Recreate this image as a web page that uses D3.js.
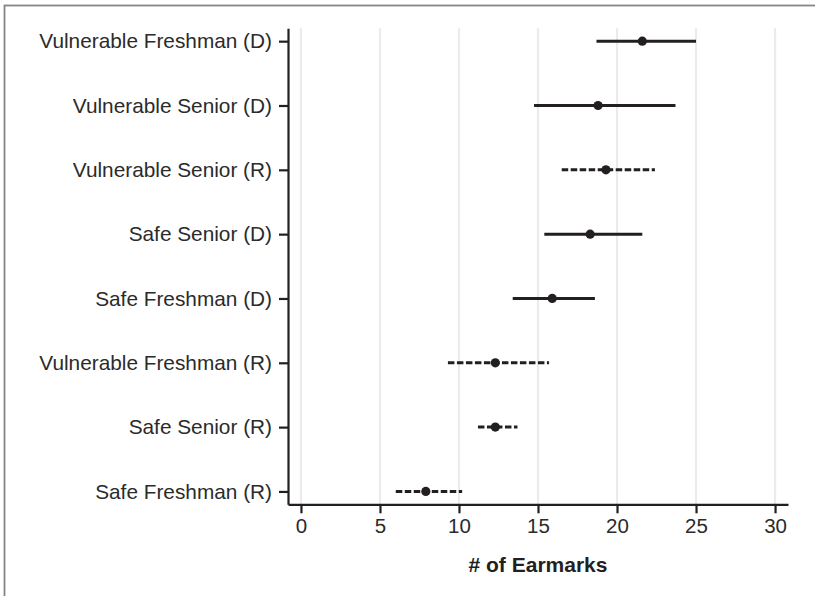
<!DOCTYPE html>
<html>
<head>
<meta charset="utf-8">
<script src="https://cdn.jsdelivr.net/npm/d3@7"></script>
<style>
  body { margin: 0; background: #fff; }
  text { font-family: "Liberation Sans", Arial, Helvetica, sans-serif; }
</style>
</head>
<body>
<div id="chart"></div>
<script>
// categories top to bottom
var groups = ["Vulnerable Freshman (D)", "Vulnerable Senior (D)", "Vulnerable Senior (R)",
    "Safe Senior (D)", "Safe Freshman (D)", "Vulnerable Freshman (R)",
    "Safe Senior (R)", "Safe Freshman (R)"];
var party = ["D", "D", "R", "D", "D", "R", "R", "R"];
var means = [21.6, 18.8, 19.3, 18.3, 15.9, 12.3, 12.3, 7.9];
var lows = [18.7, 14.75, 16.5, 15.4, 13.4, 9.3, 11.2, 6.0];
var highs = [25.0, 23.7, 22.4, 21.6, 18.6, 15.7, 13.7, 10.2];
var xTicks = [0, 5, 10, 15, 20, 25, 30];

var width = 815, height = 596;

var svg = d3.select("#chart").append("svg")
    .attr("width", width)
    .attr("height", height);

// frame of the figure (only top and left show)
svg.append("rect")
    .attr("x", 4.5).attr("y", 5.5)
    .attr("width", 830).attr("height", 620)
    .attr("fill", "none")
    .attr("stroke", "#858585")
    .attr("stroke-width", 1.8);

var x = d3.scaleLinear().domain([-0.82, 30.82]).range([288, 788]);
var y = d3.scalePoint().domain(groups).range([28.3, 504.3]).padding(0.2);

var rows = groups.map(function (g, i) {
    return { name: g, party: party[i], mean: means[i], low: lows[i], high: highs[i] };
});

// vertical grid
svg.append("g").selectAll("line")
    .data(xTicks)
    .enter().append("line")
    .attr("x1", function (d) { return x(d); })
    .attr("x2", function (d) { return x(d); })
    .attr("y1", 28.3)
    .attr("y2", 504.3)
    .attr("stroke", "#ebebeb")
    .attr("stroke-width", 2.2);

// error bars
svg.append("g").selectAll("line")
    .data(rows)
    .enter().append("line")
    .attr("x1", function (d) { return x(d.low); })
    .attr("x2", function (d) { return x(d.high); })
    .attr("y1", function (d) { return y(d.name); })
    .attr("y2", function (d) { return y(d.name); })
    .attr("stroke", "#231f20")
    .attr("stroke-width", 3)
    .attr("stroke-dasharray", function (d) { return d.party == "R" ? "6.5,2.5" : null; });

// points
svg.append("g").selectAll("circle")
    .data(rows)
    .enter().append("circle")
    .attr("cx", function (d) { return x(d.mean); })
    .attr("cy", function (d) { return y(d.name); })
    .attr("r", 4.6)
    .attr("fill", "#231f20");

// x axis
var xAxis = svg.append("g")
    .attr("transform", "translate(0,504.3)")
    .call(d3.axisBottom(x).tickValues(xTicks).tickSize(9).tickPadding(5).tickSizeOuter(0));
xAxis.select(".domain").attr("stroke", "#231f20").attr("stroke-width", 2.2);
xAxis.selectAll(".tick line").attr("stroke", "#231f20").attr("stroke-width", 2.2);
xAxis.selectAll(".tick text")
    .attr("font-size", 20.5)
    .attr("fill", "#2b2b2b");

// y axis
var yAxis = svg.append("g")
    .attr("transform", "translate(288,0)")
    .call(d3.axisLeft(y).tickSize(9).tickPadding(7).tickSizeOuter(0));
yAxis.select(".domain").attr("stroke", "#231f20").attr("stroke-width", 2.2);
yAxis.selectAll(".tick line").attr("stroke", "#231f20").attr("stroke-width", 2.2);
yAxis.selectAll(".tick text")
    .attr("font-size", 20.8)
    .attr("fill", "#2b2b2b");

// axis title
svg.append("text")
    .attr("x", x(15))
    .attr("y", 572)
    .attr("text-anchor", "middle")
    .attr("font-size", 21)
    .attr("font-weight", "bold")
    .attr("fill", "#231f20")
    .text("# of Earmarks");
</script>
</body>
</html>
